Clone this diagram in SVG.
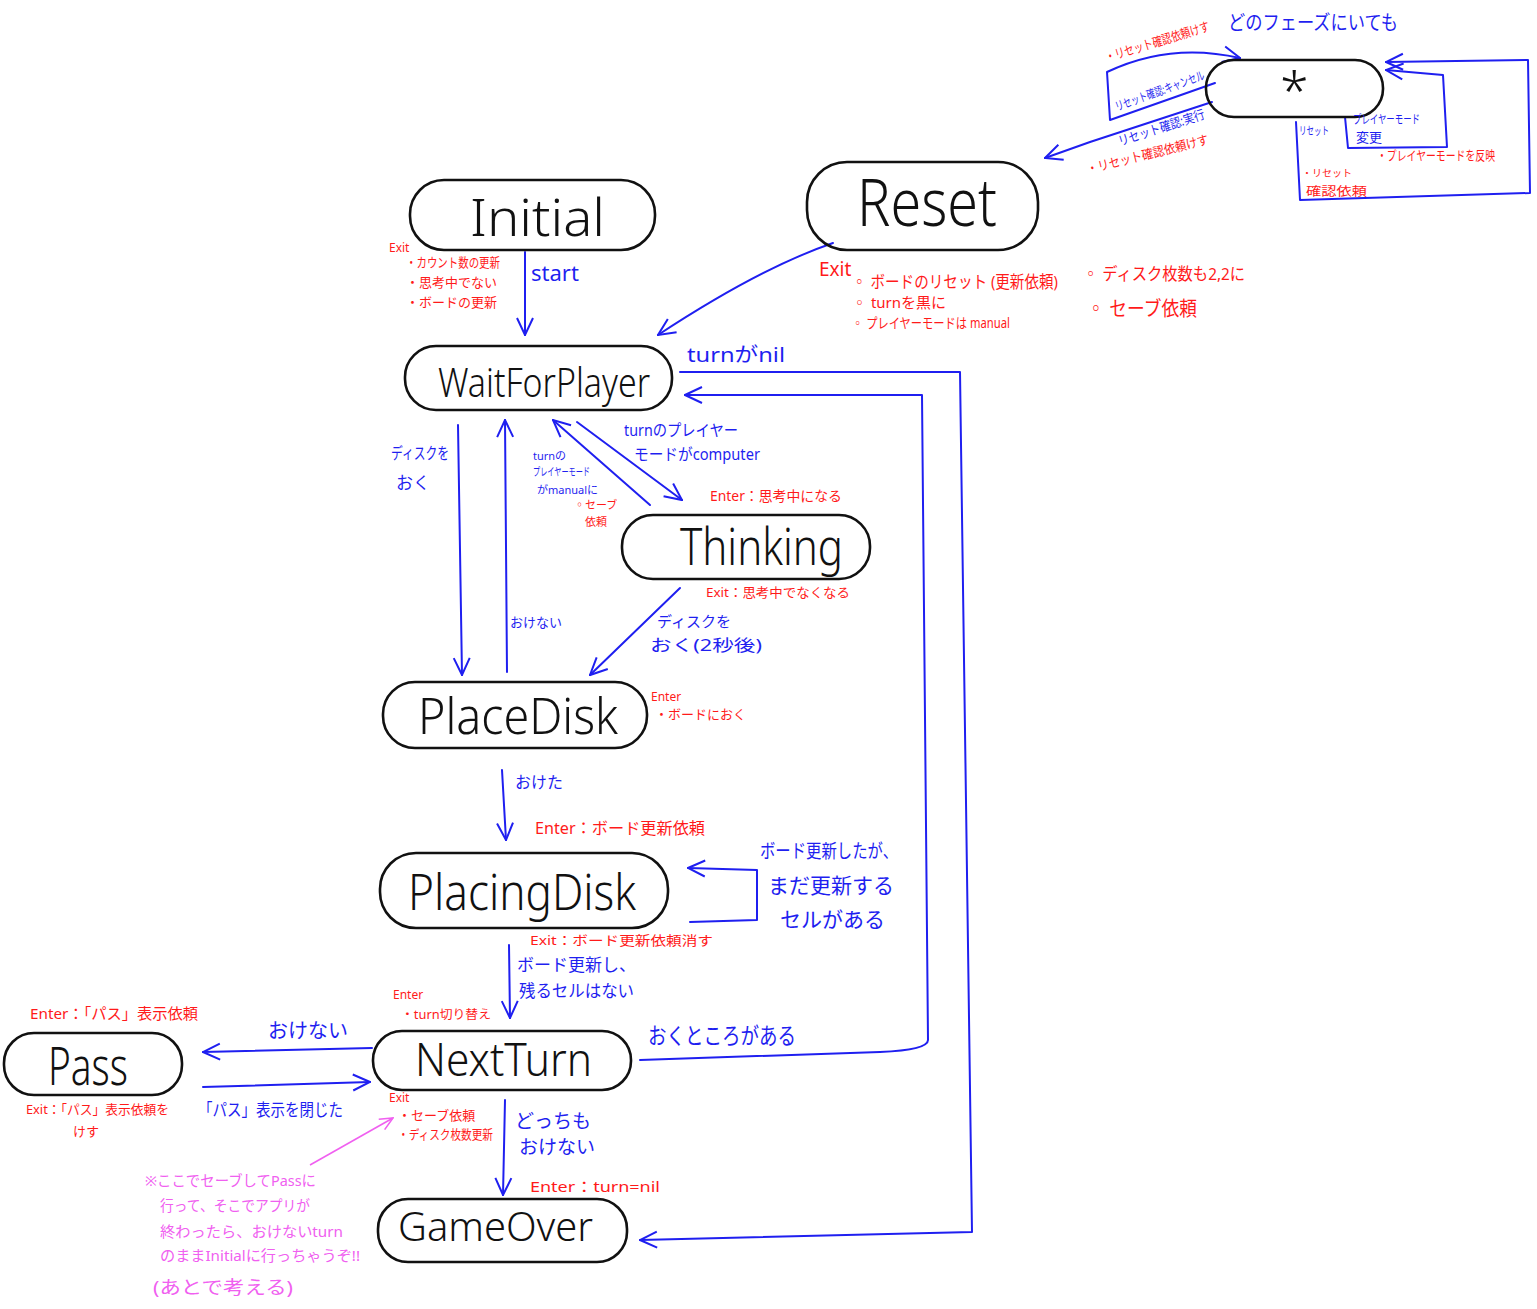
<svg xmlns="http://www.w3.org/2000/svg" width="1537" height="1309" viewBox="0 0 1537 1309">
<style>
.node{fill:none;stroke:#111;stroke-width:2.6}
.nt{font-family:"Noto Sans","Liberation Sans",sans-serif;fill:#111;font-weight:300}
.c{fill:none;stroke:#1f1ff0;stroke-width:2;stroke-linejoin:round;stroke-linecap:round}
.ca{marker-end:url(#ah)}
.pk{fill:none;stroke:#f060f0;stroke-width:1.6;marker-end:url(#ahp)}
.b{font-family:"Noto Sans","Noto Sans CJK JP",sans-serif;fill:#1f1ff0}
.r{font-family:"Noto Sans","Noto Sans CJK JP",sans-serif;fill:#ff1a1a}
.p{font-family:"Noto Sans","Noto Sans CJK JP",sans-serif;fill:#f060f0}
</style>
<defs>
<marker id="ah" markerUnits="userSpaceOnUse" markerWidth="20" markerHeight="20" viewBox="0 0 20 20" refX="19" refY="10" orient="auto">
<path d="M2,2 L19,10 L2,18" fill="none" stroke="#1f1ff0" stroke-width="2"/>
</marker>
<marker id="ahp" markerUnits="userSpaceOnUse" markerWidth="16" markerHeight="16" viewBox="0 0 16 16" refX="15" refY="8" orient="auto">
<path d="M2,2 L15,8 L2,14" fill="none" stroke="#f060f0" stroke-width="1.6"/>
</marker>
</defs>
<rect width="1537" height="1309" fill="#fff"/>

<g id="connectors">
<path class="c ca" d="M525,252 L525,335"/>
<path class="c ca" d="M833,243 Q760,268 658,335"/>
<path class="c ca" d="M1212,102 L1090,142 L1045,158"/>
<path class="c ca" d="M1215,83 L1110,120 L1107,72 Q1170,42 1240,58"/>
<path class="c ca" d="M1345,117 L1348,148 L1447,147 L1443,75 L1386,70"/>
<path class="c ca" d="M1296,122 L1300,200 L1530,193 L1528,60 L1386,62"/>
<path class="c ca" d="M458,425 L462,675"/>
<path class="c ca" d="M507,672 L505,420"/>
<path class="c ca" d="M577,422 L682,500"/>
<path class="c ca" d="M650,505 L553,420"/>
<path class="c ca" d="M680,588 L590,675"/>
<path class="c ca" d="M502,770 L506,840"/>
<path class="c ca" d="M690,922 L757,920 L757,870 L688,868"/>
<path class="c ca" d="M509,945 L510,1018"/>
<path class="c ca" d="M372,1048 L203,1052"/>
<path class="c ca" d="M203,1087 L370,1082"/>
<path class="c ca" d="M640,1060 L880,1052 Q928,1050 928,1040 L922,395 L685,395"/>
<path class="c ca" d="M680,372 L960,372 L972,1232 L640,1240"/>
<path class="c ca" d="M505,1100 L503,1195"/>
<path class="pk" d="M310,1165 L393,1118"/>
</g>

<g id="node-initial">
<rect class="node" x="410" y="180" width="245" height="70" rx="34"/>
<text class="nt" x="470" y="236" font-size="52" textLength="135" lengthAdjust="spacingAndGlyphs">Initial</text>
</g>
<g id="node-reset">
<rect class="node" x="807" y="162" width="231" height="88" rx="40"/>
<text class="nt" x="857" y="226" font-size="66" textLength="140" lengthAdjust="spacingAndGlyphs">Reset</text>
</g>
<g id="node-any">
<rect class="node" x="1206" y="60" width="177" height="57" rx="28"/>
<text class="nt" x="1280" y="109" font-size="52">*</text>
</g>
<g id="node-waitforplayer">
<rect class="node" x="405" y="346" width="267" height="64" rx="31"/>
<text class="nt" x="438" y="397" font-size="40" textLength="212" lengthAdjust="spacingAndGlyphs">WaitForPlayer</text>
</g>
<g id="node-thinking">
<rect class="node" x="622" y="515" width="248" height="64" rx="31"/>
<text class="nt" x="680" y="565" font-size="52" textLength="163" lengthAdjust="spacingAndGlyphs">Thinking</text>
</g>
<g id="node-placedisk">
<rect class="node" x="383" y="682" width="264" height="66" rx="32"/>
<text class="nt" x="418" y="734" font-size="50" textLength="200" lengthAdjust="spacingAndGlyphs">PlaceDisk</text>
</g>
<g id="node-placingdisk">
<rect class="node" x="380" y="853" width="288" height="75" rx="36"/>
<text class="nt" x="408" y="910" font-size="50" textLength="228" lengthAdjust="spacingAndGlyphs">PlacingDisk</text>
</g>
<g id="node-pass">
<rect class="node" x="4" y="1033" width="178" height="62" rx="30"/>
<text class="nt" x="48" y="1085" font-size="54" textLength="80" lengthAdjust="spacingAndGlyphs">Pass</text>
</g>
<g id="node-nextturn">
<rect class="node" x="373" y="1031" width="258" height="59" rx="29"/>
<text class="nt" x="415" y="1076" font-size="46" textLength="177" lengthAdjust="spacingAndGlyphs">NextTurn</text>
</g>
<g id="node-gameover">
<rect class="node" x="378" y="1199" width="249" height="63" rx="30"/>
<text class="nt" x="398" y="1241" font-size="40" textLength="195" lengthAdjust="spacingAndGlyphs">GameOver</text>
</g>

<g id="labels">
<text class="b" x="1228" y="30" font-size="20" textLength="170" lengthAdjust="spacingAndGlyphs">どのフェーズにいても</text>
<text class="r" x="1107" y="62" font-size="13" transform="rotate(-17 1107 62)" textLength="108" lengthAdjust="spacingAndGlyphs">・リセット確認依頼けす</text>
<text class="b" x="1117" y="111" font-size="12" transform="rotate(-20 1117 111)" textLength="94" lengthAdjust="spacingAndGlyphs">リセット確認:キャンセル</text>
<text class="b" x="1120" y="146" font-size="13" transform="rotate(-18 1120 146)" textLength="90" lengthAdjust="spacingAndGlyphs">リセット確認:実行</text>
<text class="r" x="1088" y="174" font-size="13" transform="rotate(-14 1088 174)" textLength="125" lengthAdjust="spacingAndGlyphs">・リセット確認依頼けす</text>
<text class="b" x="1299" y="135" font-size="11" textLength="30" lengthAdjust="spacingAndGlyphs">リセット</text>
<text class="b" x="1353" y="124" font-size="12" textLength="67" lengthAdjust="spacingAndGlyphs">プレイヤーモード</text>
<text class="b" x="1356" y="142" font-size="13">変更</text>
<text class="r" x="1377" y="160" font-size="13" textLength="118" lengthAdjust="spacingAndGlyphs">・プレイヤーモードを反映</text>
<text class="r" x="1302" y="177" font-size="10">・リセット</text>
<text class="r" x="1306" y="196" font-size="12" textLength="61" lengthAdjust="spacingAndGlyphs">確認依頼</text>

<text class="r" x="389" y="252" font-size="12">Exit</text>
<text class="r" x="406" y="267" font-size="13" textLength="94" lengthAdjust="spacingAndGlyphs">・カウント数の更新</text>
<text class="r" x="406" y="287" font-size="13">・思考中でない</text>
<text class="r" x="406" y="307" font-size="13">・ボードの更新</text>
<text class="b" x="531" y="281" font-size="22">start</text>

<text class="r" x="819" y="276" font-size="19">Exit</text>
<text class="r" x="852" y="288" font-size="17" textLength="206" lengthAdjust="spacingAndGlyphs">◦ ボードのリセット (更新依頼)</text>
<text class="r" x="852" y="308" font-size="15">◦ turnを黒に</text>
<text class="r" x="852" y="328" font-size="14" textLength="158" lengthAdjust="spacingAndGlyphs">◦ プレイヤーモードは manual</text>
<text class="r" x="1083" y="280" font-size="17" textLength="162" lengthAdjust="spacingAndGlyphs">◦ ディスク枚数も2,2に</text>
<text class="r" x="1087" y="316" font-size="20" textLength="110" lengthAdjust="spacingAndGlyphs">◦ セーブ依頼</text>

<text class="b" x="687" y="362" font-size="20" textLength="98" lengthAdjust="spacingAndGlyphs">turnがnil</text>
<text class="b" x="391" y="459" font-size="16" textLength="58" lengthAdjust="spacingAndGlyphs">ディスクを</text>
<text class="b" x="396" y="489" font-size="17">おく</text>
<text class="b" x="624" y="436" font-size="16" textLength="114" lengthAdjust="spacingAndGlyphs">turnのプレイヤー</text>
<text class="b" x="634" y="460" font-size="16" textLength="126" lengthAdjust="spacingAndGlyphs">モードがcomputer</text>
<text class="b" x="533" y="460" font-size="11">turnの</text>
<text class="b" x="533" y="476" font-size="11" textLength="57" lengthAdjust="spacingAndGlyphs">プレイヤーモード</text>
<text class="b" x="537" y="494" font-size="11">がmanualに</text>
<text class="r" x="574" y="509" font-size="11">◦セーブ</text>
<text class="r" x="585" y="526" font-size="11">依頼</text>
<text class="r" x="710" y="501" font-size="14" textLength="132" lengthAdjust="spacingAndGlyphs">Enter：思考中になる</text>
<text class="r" x="706" y="597" font-size="13" textLength="144" lengthAdjust="spacingAndGlyphs">Exit：思考中でなくなる</text>
<text class="b" x="657" y="627" font-size="15">ディスクを</text>
<text class="b" x="650" y="651" font-size="16" textLength="112" lengthAdjust="spacingAndGlyphs">おく(2秒後)</text>
<text class="b" x="510" y="627" font-size="13">おけない</text>
<text class="r" x="651" y="701" font-size="12">Enter</text>
<text class="r" x="655" y="719" font-size="13">・ボードにおく</text>
<text class="b" x="515" y="788" font-size="16">おけた</text>
<text class="r" x="535" y="834" font-size="16" textLength="170" lengthAdjust="spacingAndGlyphs">Enter：ボード更新依頼</text>
<text class="b" x="760" y="858" font-size="19" textLength="138" lengthAdjust="spacingAndGlyphs">ボード更新したが、</text>
<text class="b" x="768" y="893" font-size="21">まだ更新する</text>
<text class="b" x="780" y="927" font-size="21">セルがある</text>
<text class="r" x="530" y="945" font-size="13" textLength="183" lengthAdjust="spacingAndGlyphs">Exit：ボード更新依頼消す</text>
<text class="b" x="517" y="971" font-size="17">ボード更新し、</text>
<text class="b" x="519" y="997" font-size="17" textLength="115" lengthAdjust="spacingAndGlyphs">残るセルはない</text>
<text class="r" x="393" y="999" font-size="12">Enter</text>
<text class="r" x="401" y="1019" font-size="12" textLength="90" lengthAdjust="spacingAndGlyphs">・turn切り替え</text>
<text class="r" x="30" y="1019" font-size="15" textLength="168" lengthAdjust="spacingAndGlyphs">Enter：「パス」表示依頼</text>
<text class="b" x="268" y="1038" font-size="20">おけない</text>
<text class="r" x="26" y="1114" font-size="13" textLength="143" lengthAdjust="spacingAndGlyphs">Exit：「パス」表示依頼を</text>
<text class="r" x="73" y="1136" font-size="13">けす</text>
<text class="b" x="198" y="1116" font-size="17" textLength="145" lengthAdjust="spacingAndGlyphs">「パス」表示を閉じた</text>
<text class="b" x="648" y="1044" font-size="23" textLength="148" lengthAdjust="spacingAndGlyphs">おくところがある</text>
<text class="r" x="389" y="1102" font-size="12">Exit</text>
<text class="r" x="398" y="1120" font-size="13">・セーブ依頼</text>
<text class="r" x="398" y="1139" font-size="13" textLength="95" lengthAdjust="spacingAndGlyphs">・ディスク枚数更新</text>
<text class="b" x="515" y="1128" font-size="19">どっちも</text>
<text class="b" x="519" y="1154" font-size="19">おけない</text>
<text class="r" x="530" y="1192" font-size="15" textLength="130" lengthAdjust="spacingAndGlyphs">Enter：turn=nil</text>
<text class="p" x="145" y="1186" font-size="15" textLength="171" lengthAdjust="spacingAndGlyphs">※ここでセーブしてPassに</text>
<text class="p" x="160" y="1211" font-size="15" textLength="150" lengthAdjust="spacingAndGlyphs">行って、そこでアプリが</text>
<text class="p" x="160" y="1237" font-size="15" textLength="183" lengthAdjust="spacingAndGlyphs">終わったら、おけないturn</text>
<text class="p" x="160" y="1261" font-size="15" textLength="200" lengthAdjust="spacingAndGlyphs">のままInitialに行っちゃうぞ!!</text>
<text class="p" x="153" y="1294" font-size="18" textLength="140" lengthAdjust="spacingAndGlyphs">(あとで考える)</text>
</g>
</svg>
